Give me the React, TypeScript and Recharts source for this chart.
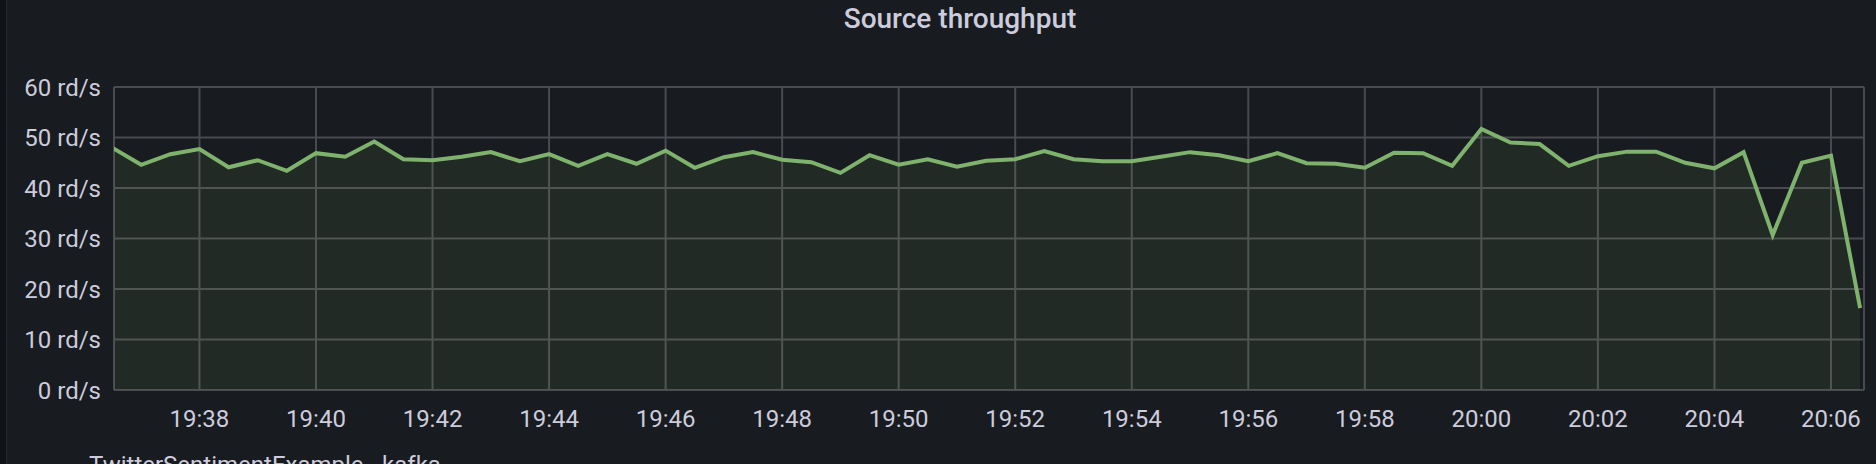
import React from 'react';
import { AreaChart, Area, XAxis, YAxis, CartesianGrid } from 'recharts';

// samples every 30s starting at START
const START = '19:36:30';
const STEP_SECONDS = 30;
const throughput = [
  48.0, 44.6, 46.7, 47.7, 44.1, 45.5, 43.4, 46.9, 46.2, 49.2,
  45.7, 45.5, 46.2, 47.1, 45.3, 46.7, 44.4, 46.7, 44.8, 47.4,
  44.0, 46.1, 47.1, 45.6, 45.1, 43.0, 46.5, 44.6, 45.7, 44.2,
  45.4, 45.7, 47.3, 45.7, 45.3, 45.3, 46.2, 47.1, 46.5, 45.3,
  46.9, 44.9, 44.8, 44.0, 47.0, 46.9, 44.4, 51.7, 49.0, 48.7,
  44.4, 46.3, 47.2, 47.2, 45.0, 43.9, 47.1, 30.7, 45.0, 46.4,
  16.2,
];
const timeTicks = [
  '19:38', '19:40', '19:42', '19:44', '19:46', '19:48', '19:50', '19:52',
  '19:54', '19:56', '19:58', '20:00', '20:02', '20:04', '20:06',
];
const valueTicks = [0, 10, 20, 30, 40, 50, 60];
const timeRange = ['19:36:32', '20:06:34'];
const seriesName = 'TwitterSentimentExample - kafka';

const toSec = (s: string) => {
  const [h, m, sec = '0'] = s.split(':');
  return Number(h) * 3600 + Number(m) * 60 + Number(sec);
};

const fmtTime = (t: number) => {
  const h = Math.floor(t / 3600);
  const m = Math.floor((t % 3600) / 60);
  return `${h}:${String(m).padStart(2, '0')}`;
};

const data = throughput.map((v, i) => ({ t: toSec(START) + i * STEP_SECONDS, v }));

const TEXT = '#ccccdc';
const GRID = '#494b50';
const FONT = 'Roboto, "Noto Sans", sans-serif';

export default function App() {
  return (
    <div
      style={{
        position: 'fixed',
        left: 0,
        top: 0,
        width: 1876,
        height: 464,
        background: '#181b1f',
        overflow: 'hidden',
        fontFamily: FONT,
      }}
    >
      <div style={{ position: 'absolute', left: 0, top: 0, width: 6, height: 464, background: '#111217', borderRight: '1px solid #26282c' }} />
      <div
        style={{
          position: 'absolute',
          left: 0,
          width: 1920,
          top: 5,
          textAlign: 'center',
          fontSize: 28,
          lineHeight: '28px',
          fontWeight: 500,
          color: TEXT,
        }}
      >
        Source throughput
      </div>
      <div style={{ position: 'absolute', left: 89, top: 451, fontSize: 24, color: TEXT, whiteSpace: 'nowrap' }}>
        {seriesName}
      </div>
      <div style={{ position: 'absolute', left: 0, top: 0 }}>
        <AreaChart width={1876} height={464} data={data} margin={{ top: 87, right: 12, bottom: 34, left: 0 }}>
          <CartesianGrid stroke={GRID} strokeWidth={2} />
          <XAxis
            dataKey="t"
            type="number"
            domain={timeRange.map(toSec)}
            allowDataOverflow
            ticks={timeTicks.map(toSec)}
            tickFormatter={fmtTime}
            axisLine={false}
            tickLine={false}
            tickSize={0}
            tickMargin={20}
            height={40}
            tick={{ fill: TEXT, fontSize: 24, fontFamily: FONT }}
          />
          <YAxis
            domain={[0, 60]}
            ticks={valueTicks}
            tickFormatter={(v: number) => `${v} rd/s`}
            axisLine={false}
            tickLine={false}
            tickSize={0}
            tickMargin={13}
            width={114}
            tick={{ fill: TEXT, fontSize: 24, fontFamily: FONT }}
          />
          <Area
            type="linear"
            dataKey="v"
            name={seriesName}
            stroke="#7eb26d"
            strokeWidth={4}
            fill="#7eb26d"
            fillOpacity={0.1}
            dot={false}
            activeDot={false}
            isAnimationActive={false}
          />
        </AreaChart>
      </div>
    </div>
  );
}
